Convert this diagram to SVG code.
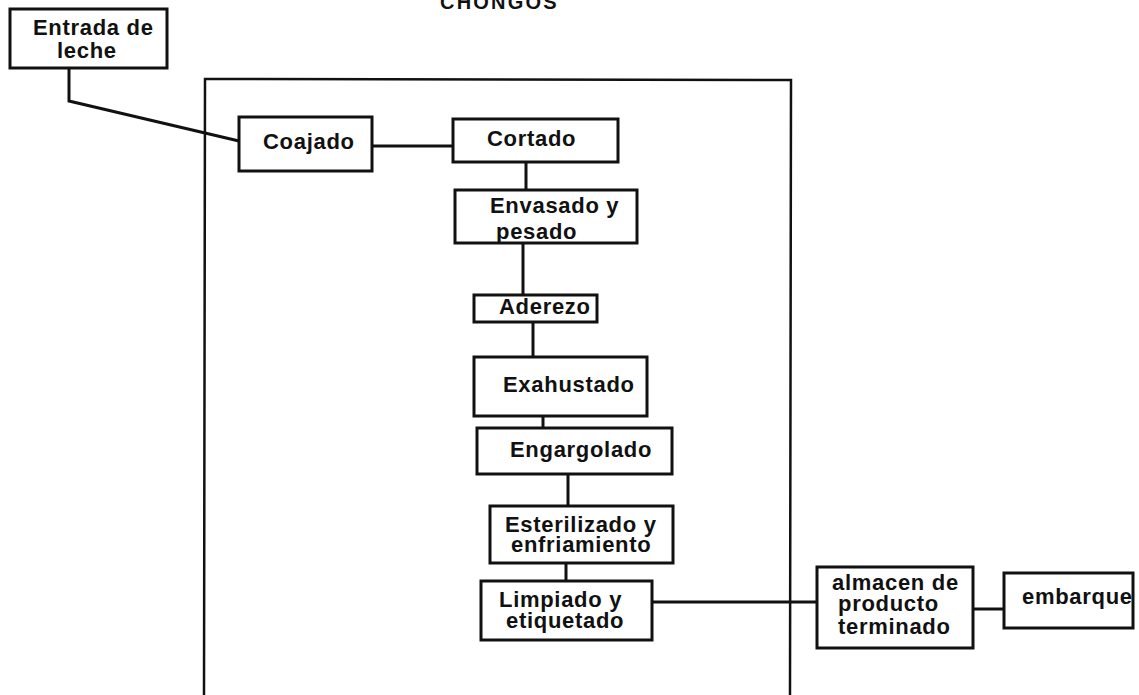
<svg xmlns="http://www.w3.org/2000/svg" width="1139" height="695" viewBox="0 0 1139 695">
  <style>
    .box { fill: #ffffff; stroke: #111111; stroke-width: 3; }
    .frame { fill: none; stroke: #111111; stroke-width: 2.5; }
    .link { fill: none; stroke: #111111; stroke-width: 3; }
    .lbl { font-family: "Liberation Sans", Arial, sans-serif; font-weight: bold; font-size: 22px; letter-spacing: 0.7px; fill: #111111; }
    .title { font-family: "Liberation Sans", Arial, sans-serif; font-weight: bold; font-size: 20px; letter-spacing: 2.2px; fill: #111111; }
  </style>
  <rect width="1139" height="695" fill="#ffffff"/>

  <text class="title" x="440" y="9">CHONGOS</text>

  <!-- plant boundary -->
  <path class="frame" d="M204,695 L205,79 L791,80 L790,695"/>

  <g id="connectors">
    <path class="link" d="M69,68 L69,101 L239,141"/>
    <path class="link" d="M372,146 L453,146"/>
    <path class="link" d="M526,162 L526,190"/>
    <path class="link" d="M523,243 L523,295"/>
    <path class="link" d="M533,322 L533,357"/>
    <path class="link" d="M543,416 L543,428"/>
    <path class="link" d="M568,474 L568,506"/>
    <path class="link" d="M566,563 L566,581"/>
    <path class="link" d="M652,602 L817,602"/>
    <path class="link" d="M973,609 L1004,609"/>
  </g>

  <g id="entrada">
    <rect class="box" x="10" y="9" width="157" height="59"/>
    <text class="lbl" x="33" y="35">Entrada de</text>
    <text class="lbl" x="57" y="58">leche</text>
  </g>

  <g id="coajado">
    <rect class="box" x="239" y="117" width="133" height="54"/>
    <text class="lbl" x="263" y="149">Coajado</text>
  </g>

  <g id="cortado">
    <rect class="box" x="453" y="119" width="165" height="43"/>
    <text class="lbl" x="487" y="146">Cortado</text>
  </g>

  <g id="envasado">
    <rect class="box" x="455" y="190" width="182" height="53"/>
    <text class="lbl" x="490" y="213">Envasado y</text>
    <text class="lbl" x="496" y="239">pesado</text>
  </g>

  <g id="aderezo">
    <rect class="box" x="474" y="295" width="123" height="27"/>
    <text class="lbl" x="499" y="314">Aderezo</text>
  </g>

  <g id="exahustado">
    <rect class="box" x="474" y="357" width="173" height="59"/>
    <text class="lbl" x="503" y="392">Exahustado</text>
  </g>

  <g id="engargolado">
    <rect class="box" x="477" y="428" width="195" height="46"/>
    <text class="lbl" x="510" y="457">Engargolado</text>
  </g>

  <g id="esterilizado">
    <rect class="box" x="490" y="506" width="183" height="57"/>
    <text class="lbl" x="505" y="532">Esterilizado y</text>
    <text class="lbl" x="511" y="552">enfriamiento</text>
  </g>

  <g id="limpiado">
    <rect class="box" x="481" y="581" width="171" height="59"/>
    <text class="lbl" x="499" y="607">Limpiado y</text>
    <text class="lbl" x="506" y="628">etiquetado</text>
  </g>

  <g id="almacen">
    <rect class="box" x="817" y="567" width="156" height="81"/>
    <text class="lbl" x="832" y="590">almacen de</text>
    <text class="lbl" x="838" y="611">producto</text>
    <text class="lbl" x="838" y="634">terminado</text>
  </g>

  <g id="embarque">
    <rect class="box" x="1004" y="573" width="129" height="55"/>
    <text class="lbl" x="1022" y="604">embarque</text>
  </g>
</svg>
